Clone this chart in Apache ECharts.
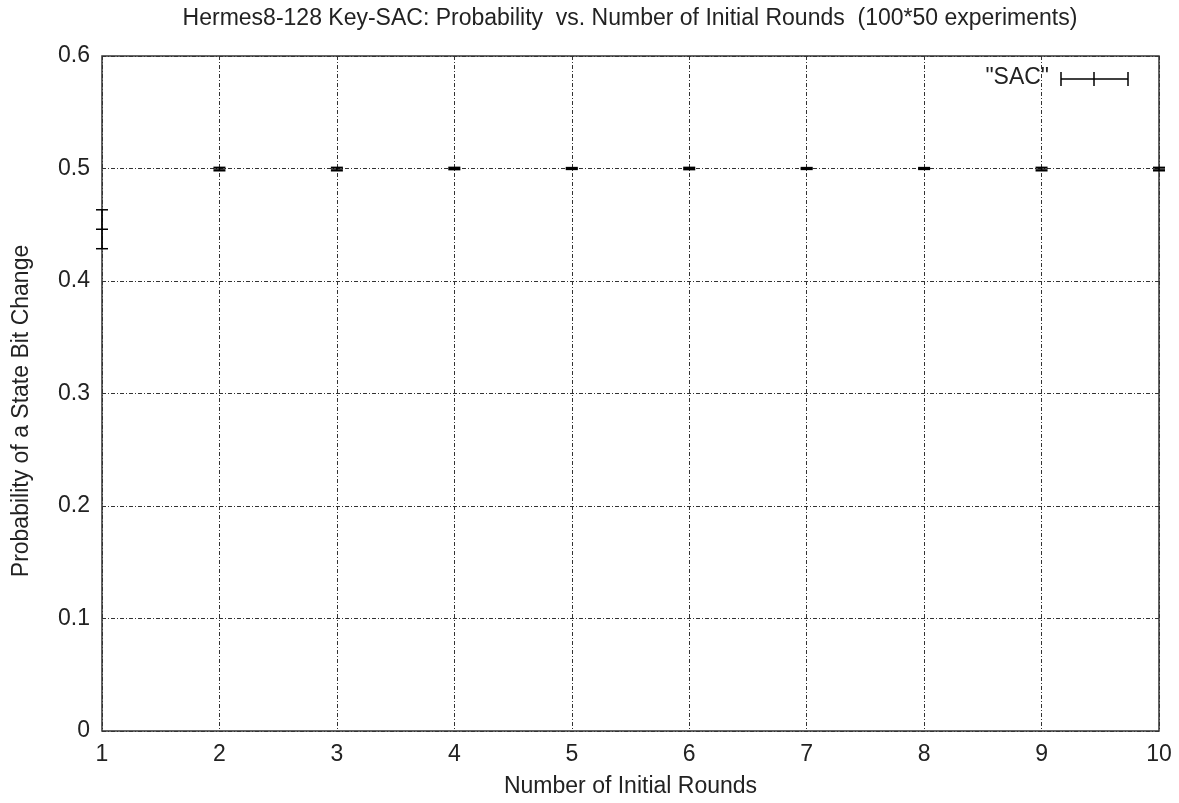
<!DOCTYPE html>
<html><head><meta charset="utf-8">
<script src="https://cdn.jsdelivr.net/npm/echarts@6/dist/echarts.min.js"></script>
<style>html,body{margin:0;padding:0;background:#fff}#c{width:1179px;height:803px}</style>
</head><body><div id="c"></div>
<script>
const rounds = [1, 2, 3, 4, 5, 6, 7, 8, 9, 10];
const sacMean = [0.446, 0.4995, 0.4995, 0.5, 0.5, 0.5, 0.5, 0.5, 0.4995, 0.4995];
const sacErr = [0.0173, 0.0015, 0.0015, 0.001, 0.0008, 0.001, 0.0008, 0.0008, 0.0015, 0.0015];
const yTicks = [0, 0.1, 0.2, 0.3, 0.4, 0.5, 0.6];
const FONT = '"Liberation Sans", Arial, sans-serif';
const FS = 23;

const data = rounds.map((r, i) => [r, sacMean[i], sacErr[i]]);
const chart = echarts.init(document.getElementById('c'));
chart.setOption({
  animation: false,
  grid: {left: 102, right: 20, top: 56, bottom: 71, show: true, borderColor: '#333', borderWidth: 1.5},
  xAxis: {type: 'value', min: 1, max: 10, interval: 1,
    name: 'Number of Initial Rounds', nameLocation: 'middle', nameGap: 44,
    nameTextStyle: {fontFamily: FONT, fontSize: FS, color: '#222'},
    axisLine: {show: false}, axisTick: {show: false},
    axisLabel: {fontFamily: FONT, fontSize: FS, color: '#222', margin: 12},
    splitLine: {show: true, lineStyle: {color: '#333', type: [4, 2, 1, 2], width: 1}}},
  yAxis: {type: 'value', min: 0, max: 0.6, interval: 0.1,
    axisLine: {show: false}, axisTick: {show: false},
    axisLabel: {fontFamily: FONT, fontSize: FS, color: '#222', margin: 12,
      formatter: v => yTicks.includes(+v.toFixed(1)) ? String(+v.toFixed(1)) : ''},
    splitLine: {show: true, lineStyle: {color: '#333', type: [4, 2, 1, 2], width: 1}}},
  series: [{
    type: 'custom', name: '"SAC"', data: data, clip: false,
    renderItem: function (params, api) {
      const x = api.value(0), y = api.value(1), e = api.value(2);
      const c = api.coord([x, y]);
      const top = api.coord([x, y + e]);
      const bot = api.coord([x, y - e]);
      const hw = 6;
      const st = {stroke: '#000', lineWidth: 1.5};
      return {type: 'group', children: [
        {type: 'line', shape: {x1: c[0], y1: top[1], x2: c[0], y2: bot[1]}, style: st},
        {type: 'line', shape: {x1: c[0] - hw, y1: top[1], x2: c[0] + hw, y2: top[1]}, style: st},
        {type: 'line', shape: {x1: c[0] - hw, y1: c[1], x2: c[0] + hw, y2: c[1]}, style: st},
        {type: 'line', shape: {x1: c[0] - hw, y1: bot[1], x2: c[0] + hw, y2: bot[1]}, style: st}
      ]};
    }
  }],
  graphic: [
    {type: 'text', x: 630, y: 19, style: {text: 'Hermes8-128 Key-SAC: Probability  vs. Number of Initial Rounds  (100*50 experiments)',
      font: FS + 'px ' + FONT, fill: '#222', textAlign: 'center', textVerticalAlign: 'middle'}},
    {type: 'text', x: 22, y: 411, rotation: Math.PI / 2, style: {text: 'Probability of a State Bit Change',
      font: FS + 'px ' + FONT, fill: '#222', textAlign: 'center', textVerticalAlign: 'middle'}},
    {type: 'text', x: 1049, y: 78, style: {text: '"SAC"', font: FS + 'px ' + FONT, fill: '#222', textAlign: 'right', textVerticalAlign: 'middle'}},
    {type: 'group', x: 1061, y: 73, children: [
      {type: 'line', shape: {x1: 0, y1: 6, x2: 67, y2: 6}, style: {stroke: '#000', lineWidth: 1.5}},
      {type: 'line', shape: {x1: 0, y1: -1, x2: 0, y2: 13}, style: {stroke: '#000', lineWidth: 1.5}},
      {type: 'line', shape: {x1: 33, y1: -1, x2: 33, y2: 13}, style: {stroke: '#000', lineWidth: 1.5}},
      {type: 'line', shape: {x1: 67, y1: -1, x2: 67, y2: 13}, style: {stroke: '#000', lineWidth: 1.5}}
    ]}
  ]
});
</script></body></html>
